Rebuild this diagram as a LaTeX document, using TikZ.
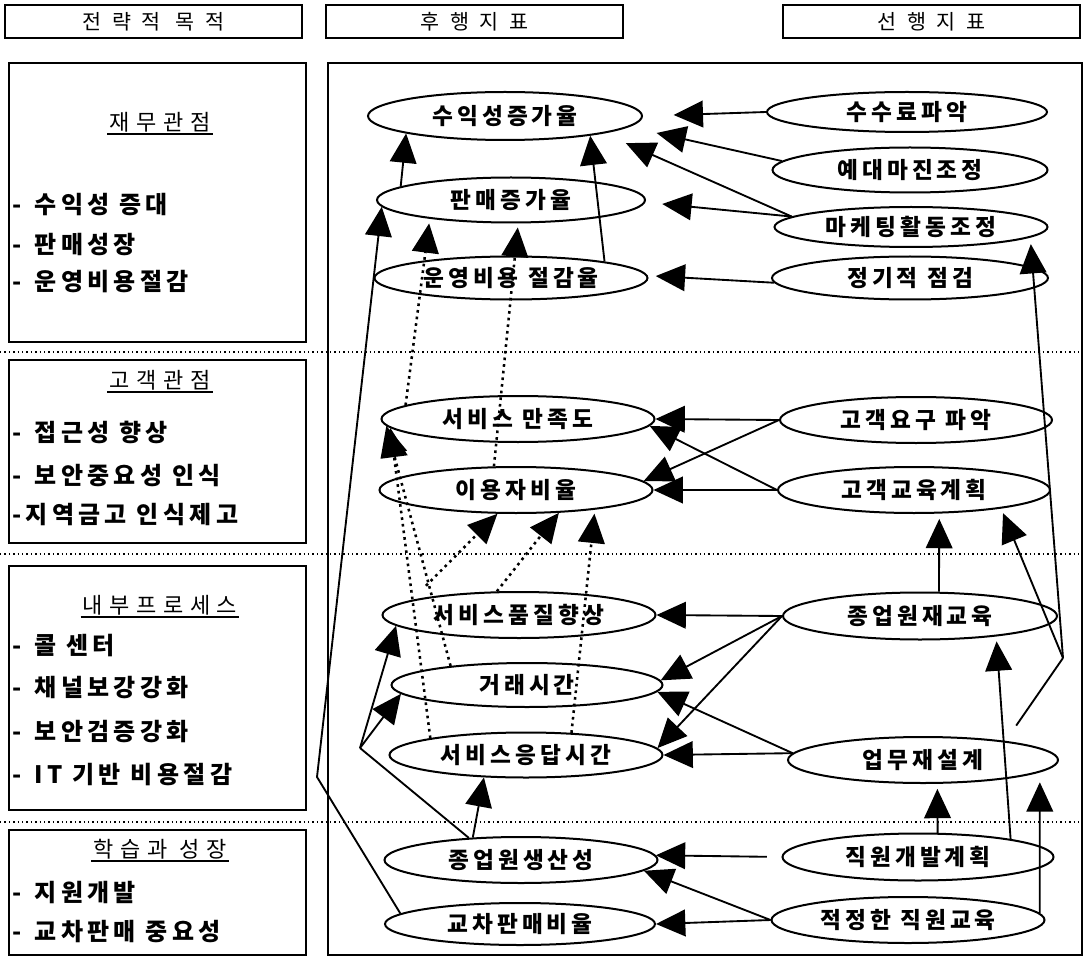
\documentclass[tikz,border=0pt]{standalone}
\usepackage{fontspec}
\newfontfamily\krb{Noto Sans CJK KR}[LetterSpace=18]
\newfontfamily\krr{Noto Sans CJK KR}[LetterSpace=30]
\newfontfamily\krh{Noto Sans CJK KR}[LetterSpace=50]
\usetikzlibrary{shapes.geometric,arrows.meta}
\begin{document}
\begin{tikzpicture}[x=0.75pt,y=-0.75pt,
  ell/.style={ellipse,draw,line width=1.5pt,minimum width=204.75pt,minimum height=34.5pt,inner sep=0pt,
    font=\krb\bfseries\fontsize{17pt}{19pt}\selectfont},
  hdrbox/.style={draw,line width=1.4pt,minimum width=222.75pt,minimum height=24.75pt,inner sep=0pt,
    font=\krh\fontsize{15.5pt}{17pt}\selectfont},
  frame/.style={draw,line width=1.5pt},
  head/.style={inner sep=1.5pt,font=\krr\fontsize{16.5pt}{18pt}\selectfont},
  item/.style={anchor=west,inner sep=0pt,font=\krb\bfseries\fontsize{18pt}{20pt}\selectfont},
  uline/.style={line width=1.2pt},
  sep/.style={line width=1.1pt,dash pattern=on 1.1pt off 2.2pt},
  arr/.style={line width=1.4pt,-{Triangle[length=22pt,width=20pt]}},
  darr/.style={line width=1.9pt,dash pattern=on 2pt off 3pt,-{Triangle[length=22pt,width=20pt]}},
  plain/.style={line width=1.4pt}
]
\fill[white] (0,0) rectangle (1085,959);
\useasboundingbox (0,0) rectangle (1085,959);

% header boxes
\node[hdrbox] (top1) at (153.5,21.5) {전략적 목적};
\node[hdrbox] (top2) at (474.5,21.5) {후행지표};
\node[hdrbox] (top3) at (931.5,21.5) {선행지표};

% frames
\draw[frame] (9,63) rectangle (306,342);
\draw[frame] (9,360) rectangle (306,543);
\draw[frame] (9,566) rectangle (306,810);
\draw[frame] (9,830) rectangle (306,955);
\draw[frame] (328,63) rectangle (1082,955);

% separators
\draw[sep] (0,352) -- (1082,352);
\draw[sep] (0,554) -- (1082,554);
\draw[sep] (0,822) -- (1082,822);

% left texts
\node[head] (hd1) at (160,122) {재무관점};
\draw[uline] (hd1.south west) -- (hd1.south east);
\node[item] (a1) at (12,205) {-\hspace{0.55em}수익성 증대};
\node[item] (a2) at (12,245) {-\hspace{0.55em}판매성장};
\node[item] (a3) at (12,282) {-\hspace{0.55em}운영비용절감};

\node[head] (hd2) at (160,380) {고객관점};
\draw[uline] (hd2.south west) -- (hd2.south east);
\node[item] (b1) at (12,432) {-\hspace{0.55em}접근성 향상};
\node[item] (b2) at (12,476) {-\hspace{0.55em}보안중요성 인식};
\node[item] (b3) at (12,515) {-지역금고 인식제고};

\node[head] (hd3) at (160,605) {내부프로세스};
\draw[uline] (hd3.south west) -- (hd3.south east);
\node[item] (c1) at (12,646) {-\hspace{0.55em}콜 센터};
\node[item] (c2) at (12,688) {-\hspace{0.55em}채널보강강화};
\node[item] (c3) at (12,732) {-\hspace{0.55em}보안검증강화};
\node[item] (c4) at (12,775) {-\hspace{0.55em}IT 기반 비용절감};

\node[head] (hd4) at (160,849) {학습과 성장};
\draw[uline] (hd4.south west) -- (hd4.south east);
\node[item] (d1) at (12,893) {-\hspace{0.55em}지원개발};
\node[item] (d2) at (12,932) {-\hspace{0.55em}교차판매 중요성};

% lagging indicators
\node[ell,minimum width=205.5pt,minimum height=36pt] (suik) at (505,116) {수익성증가율};
\node[ell,minimum width=201pt,minimum height=33.75pt] (panmae) at (511,200) {판매증가율};
\node[ell,minimum height=32.25pt] (unyoung) at (511,278) {운영비용 절감율};
\node[ell] (manjok) at (518,419) {서비스 만족도};
\node[ell] (iyong) at (516,490) {이용자비율};
\node[ell] (pumjil) at (519,615) {서비스품질향상};
\node[ell,minimum width=203.25pt,minimum height=33pt] (georae) at (527,685) {거래시간};
\node[ell,minimum height=33.75pt] (eungdap) at (526,755) {서비스응답시간};
\node[ell] (saengsan) at (521,860) {종업원생산성};
\node[ell,minimum width=202.5pt,minimum height=31.5pt] (gyocha) at (520,924) {교차판매비율};

% leading indicators
\node[ell,minimum width=210pt,minimum height=30pt] (susu) at (907,112) {수수료파악};
\node[ell,minimum width=206.25pt,minimum height=33.75pt] (yedae) at (910,170) {예대마진조정};
\node[ell,minimum height=30pt] (marketing) at (911,227) {마케팅활동조정};
\node[ell,minimum width=207pt,minimum height=32.25pt] (jeonggi) at (910,278) {정기적 점검};
\node[ell,minimum width=204pt] (gogaek) at (916,420) {고객요구 파악};
\node[ell,minimum width=204pt] (gyoyuk) at (914,490) {고객교육계획};
\node[ell,minimum width=205.5pt,minimum height=35.25pt] (jaegyoyuk) at (920,616) {종업원재교육};
\node[ell,minimum width=202.5pt] (eopmu) at (923,760) {업무재설계};
\node[ell,minimum width=203.25pt,minimum height=35.25pt] (jikwon) at (918,857) {직원개발계획};
\node[ell] (jeokjeong) at (908,920) {적정한 직원교육};

\coordinate (bendL) at (317,777);
\coordinate (J1) at (1063,658);
\coordinate (J2) at (360,748);

% finance section
\draw[arr,shorten >=23pt] (susu.west) -- (suik.east);
\draw[arr,shorten >=21pt] (yedae.176) -- (suik.-5);
\draw[arr,shorten >=18pt] (marketing.175) -- (suik.-10);
\draw[arr,shorten >=12.75pt] (marketing.175) -- (panmae.-1);
\draw[arr,shorten >=6pt] (jeonggi.182) -- (unyoung.1);
\draw[arr] (panmae.173) -- (suik.190);
\draw[arr] (unyoung.10) -- (suik.-13);
\draw[arr] (gyocha.175) -- (bendL) -- (panmae.183);

% dotted links
\draw[darr,shorten >=3.5pt] (manjok.173.5) -- (panmae.193);
\draw[darr,shorten >=3pt] (iyong.133) -- (panmae.-73);
\draw[darr] (eungdap.170) -- (manjok.184);
\draw[darr] (georae.166) -- (manjok.183);
\draw[darr,shorten <=15pt] (pumjil.172) -- (iyong.232);
\draw[darr] (pumjil.133) -- (iyong.-28);
\draw[darr,shorten >=3pt] (eungdap.26) -- (iyong.-14);

% customer section
\draw[arr] (gogaek.west) -- (manjok.east);
\draw[arr] (gogaek.west) -- (iyong.4);
\draw[arr] (gyoyuk.west) -- (manjok.-3);
\draw[arr] (gyoyuk.west) -- (iyong.east);

% internal process section
\draw[arr,shorten >=4pt] (jaegyoyuk.52) -- (gyoyuk.-43);
\draw[plain,shorten <=14pt] (eopmu.13) -- (J1);
\draw[arr,shorten >=3.75pt] (J1) -- (gyoyuk.-12);
\draw[arr,shorten >=5pt] (J1) -- (marketing.-5.5);
\draw[arr,shorten >=3.75pt] (jikwon.11) -- (jaegyoyuk.-15);
\draw[arr,shorten >=3.75pt] (jikwon.51) -- (eopmu.-59);
\draw[arr,shorten >=7.5pt] (jeokjeong.3) -- (eopmu.-6);
\draw[arr] (jaegyoyuk.west) -- (pumjil.east);
\draw[arr] (jaegyoyuk.west) -- (georae.2);
\draw[arr] (jaegyoyuk.west) -- (eungdap.3);
\draw[arr] (eopmu.177) -- (georae.-3);
\draw[arr] (eopmu.177) -- (eungdap.east);
\draw[plain] (saengsan.157) -- (J2);
\draw[arr] (J2) -- (pumjil.185);
\draw[arr] (J2) -- (georae.184);
\draw[arr] (saengsan.155) -- (eungdap.208);

% learning section
\draw[arr,shorten <=11pt] (jikwon.west) -- (saengsan.2.5);
\draw[arr] (jeokjeong.west) -- (saengsan.-5);
\draw[arr] (jeokjeong.west) -- (gyocha.east);
\end{tikzpicture}
\end{document}
